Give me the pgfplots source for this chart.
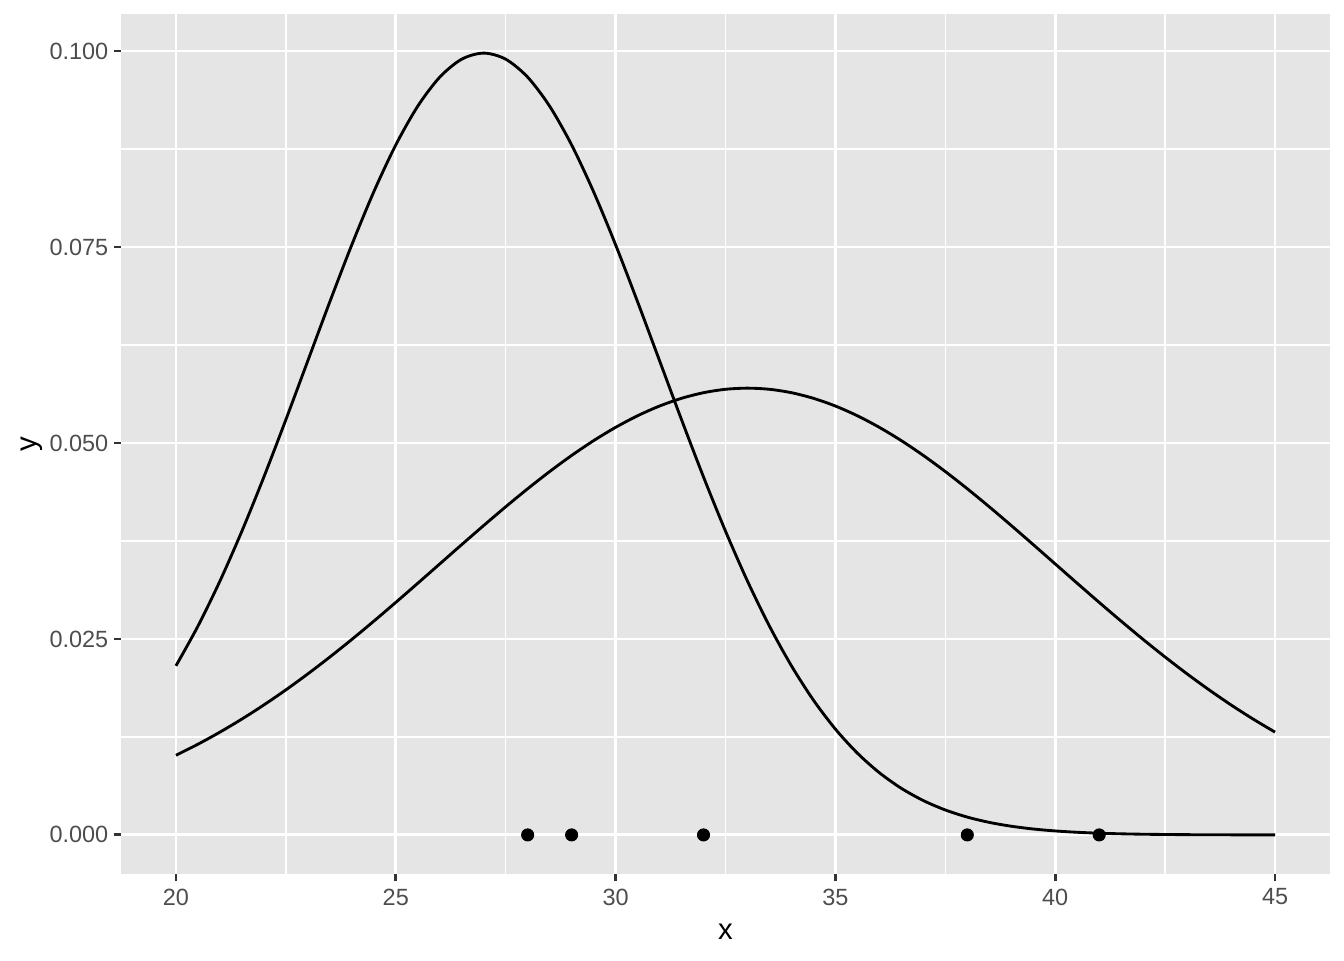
\documentclass[border=0pt]{standalone}
\usepackage{fontspec}
\setmainfont{Liberation Sans}
\usepackage{pgfplots}
\pgfplotsset{compat=1.18}
\definecolor{panelbg}{HTML}{E5E5E5}
\definecolor{ticklab}{HTML}{4D4D4D}
\definecolor{tickcol}{HTML}{333333}
\begin{document}
\begin{tikzpicture}
\useasboundingbox (-45.375pt,-32.25pt) rectangle (458.625pt,327.75pt);
\begin{axis}[
  at={(0pt,0pt)}, anchor=south west,
  width=453.375pt, height=322.5pt, scale only axis,
  xmin=18.75, xmax=46.25, ymin=-0.0049868, ymax=0.1047228,
  axis background/.style={fill=panelbg},
  axis line style={draw=none},
  xtick={20,25,30,35,40,45},
  ytick={0,0.025,0.05,0.075,0.1},
  minor xtick={22.5,27.5,32.5,37.5,42.5},
  minor ytick={0.0125,0.0375,0.0625,0.0875},
  grid=both,
  major grid style={white, line width=1.07pt},
  minor grid style={white, line width=0.53pt},
  tick pos=left, tick align=outside,
  major tick length=2.75pt, minor tick length=0pt,
  every tick/.style={tickcol, line width=1.07pt},
  scaled y ticks=false,
  /pgf/number format/assume math mode=true,
  yticklabel style={/pgf/number format/.cd, fixed, fixed zerofill, precision=3, /tikz/.cd, xshift=1.5pt},
  xticklabel style={/pgf/number format/.cd, fixed, precision=0, /tikz/.cd, yshift=0.75pt},
  tick label style={font=\fontsize{8.8}{10}\selectfont, text=ticklab},
  xlabel={x}, ylabel={y},
  label style={font=\fontsize{11}{13}\selectfont},
  xlabel style={at={(axis description cs:0.5,-0.06744)}, anchor=center},
  ylabel style={at={(axis description cs:-0.07367,0.5)}, anchor=center, rotate=0},
  clip=false,
]
\addplot[black, line width=1.07pt, no marks, smooth] coordinates {
(20,0.021570)(20.5,0.026635)(21,0.032379)(21.5,0.038754)(22,0.045662)(22.5,0.052970)
(23,0.060493)(23.5,0.068012)(24,0.075285)(24.5,0.082041)(25,0.088017)(25.5,0.092964)
(26,0.096667)(26.5,0.098960)(27,0.099736)(27.5,0.098960)(28,0.096667)(28.5,0.092964)
(29,0.088017)(29.5,0.082041)(30,0.075285)(30.5,0.068012)(31,0.060493)(31.5,0.052970)
(32,0.045662)(32.5,0.038754)(33,0.032379)(33.5,0.026635)(34,0.021570)(34.5,0.017197)
(35,0.013498)(35.5,0.010431)(36,0.007935)(36.5,0.005942)(37,0.004382)(37.5,0.003182)
(38,0.002273)(38.5,0.001599)(39,0.001108)(39.5,0.000755)(40,0.000507)(40.5,0.000335)
(41,0.000218)(41.5,0.000140)(42,0.000088)(42.5,0.000055)(43,0.000033)(43.5,0.000020)
(44,0.000012)(44.5,0.000007)(45,0.000004)
};
\addplot[black, line width=1.07pt, no marks, smooth] coordinates {
(20,0.010160)(20.5,0.011571)(21,0.013112)(21.5,0.014782)(22,0.016580)(22.5,0.018502)
(23,0.020542)(23.5,0.022692)(24,0.024937)(24.5,0.027267)(25,0.029662)(25.5,0.032103)
(26,0.034567)(26.5,0.037034)(27,0.039470)(27.5,0.041856)(28,0.044159)(28.5,0.046353)
(29,0.048407)(29.5,0.050296)(30,0.051991)(30.5,0.053471)(31,0.054713)(31.5,0.055698)
(32,0.056414)(32.5,0.056847)(33,0.056992)(33.5,0.056847)(34,0.056414)(34.5,0.055698)
(35,0.054713)(35.5,0.053471)(36,0.051991)(36.5,0.050296)(37,0.048407)(37.5,0.046353)
(38,0.044159)(38.5,0.041856)(39,0.039470)(39.5,0.037034)(40,0.034567)(40.5,0.032103)
(41,0.029662)(41.5,0.027267)(42,0.024937)(42.5,0.022692)(43,0.020542)(43.5,0.018502)
(44,0.016580)(44.5,0.014782)(45,0.013112)
};
\addplot[only marks, mark=*, mark size=2.25pt, black] coordinates {
(28,0)(29,0)(32,0)(38,0)(41,0)
};
\end{axis}
\end{tikzpicture}
\end{document}
